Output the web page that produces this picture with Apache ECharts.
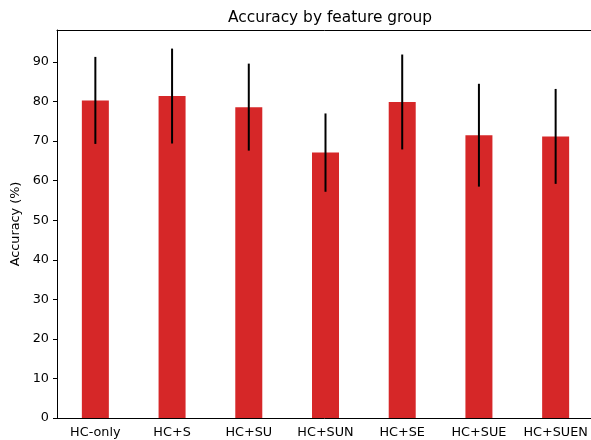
<!DOCTYPE html>
<html><head><meta charset="utf-8">
<script src="https://cdn.jsdelivr.net/npm/echarts@6/dist/echarts.min.js"></script>
<style>html,body{margin:0;padding:0;background:#fff}#c{width:591px;height:440px}</style>
</head><body><div id="c"></div>
<script>
const categories = ['HC-only','HC+S','HC+SU','HC+SUN','HC+SE','HC+SUE','HC+SUEN'];
const accuracy = [80.3, 81.4, 78.6, 67.1, 79.9, 71.5, 71.2];
const errors = [11.0, 12.0, 11.0, 9.9, 12.0, 13.0, 12.0];
const yTicks = [0,10,20,30,40,50,60,70,80,90];

const font = 'DejaVu Sans';
const chart = echarts.init(document.getElementById('c'), null, {renderer:'canvas'});
chart.setOption({
  animation:false,
  backgroundColor:'#fff',
  title:{text:'Accuracy by feature group', left:325, top:5, textAlign:'center',
    textStyle:{fontFamily:font, fontSize:15.4, fontWeight:'normal', color:'#000'}},
  grid:{left:57, top:30, width:537, height:388, show:false, outerBoundsMode:'none', containLabel:false},
  xAxis:[{type:'category', data:categories,
    axisLine:{lineStyle:{color:'#000', width:1}},
    axisTick:{alignWithLabel:true, interval:0, length:4, lineStyle:{color:'#000'}},
    axisLabel:{color:'#000', fontFamily:font, fontSize:12.8, margin:8, interval:0, hideOverlap:false},
    splitLine:{show:false}},
    {type:'category', data:categories, position:'top',
     axisLine:{show:true, lineStyle:{color:'#000', width:1}},
     axisTick:{show:false}, axisLabel:{show:false}, splitLine:{show:false}}],
  yAxis:{type:'value', min:0, max:98.1, name:'Accuracy (%)', nameLocation:'middle', nameGap:31,
    nameTextStyle:{fontFamily:font, fontSize:12.8, color:'#000'},
    axisLine:{show:true, lineStyle:{color:'#000', width:1}},
    axisTick:{show:true, length:4, lineStyle:{color:'#000'}, customValues:yTicks},
    axisLabel:{color:'#000', fontFamily:font, fontSize:12.8, margin:8, customValues:yTicks},
    splitLine:{show:false}},
  series:[
    {type:'bar', data:accuracy, barWidth:27, itemStyle:{color:'#d62728'}},
    {type:'custom', data:accuracy.map((v,i)=>[i, v-errors[i], v+errors[i]]),
     renderItem:(params, api)=>{
       const lo = api.coord([api.value(0), api.value(1)]);
       const hi = api.coord([api.value(0), api.value(2)]);
       return {type:'line', shape:{x1:lo[0], y1:lo[1], x2:hi[0], y2:hi[1]},
         style:{stroke:'#000', lineWidth:2}};
     }, z:5}
  ]
});
</script></body></html>
